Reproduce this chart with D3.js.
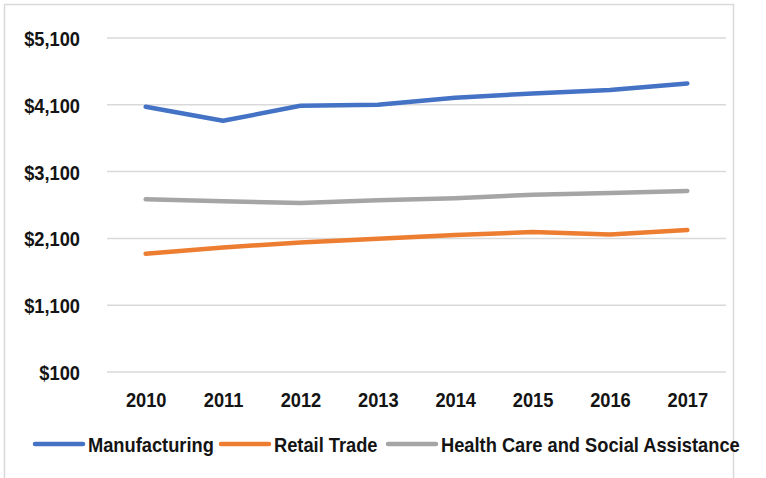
<!DOCTYPE html>
<html>
<head>
<meta charset="utf-8">
<script src="https://cdn.jsdelivr.net/npm/d3@7"></script>
<style>
  body { margin: 0; background: #fff; }
  text { font-family: "Liberation Sans Narrow", "Arial Narrow", "Liberation Sans", Arial, sans-serif; font-weight: bold; fill: #141414; }
</style>
</head>
<body>
<svg width="766" height="478"></svg>
<script>
const years = ['2010', '2011', '2012', '2013', '2014', '2015', '2016', '2017']
const manufacturing = [4070, 3860, 4085, 4100, 4205, 4270, 4320, 4420]
const retailTrade = [1870, 1965, 2040, 2095, 2150, 2195, 2160, 2225]
const healthCare = [2685, 2655, 2630, 2670, 2700, 2755, 2780, 2810]
const yTicks = [100, 1100, 2100, 3100, 4100, 5100]

const series = [
  { name: 'Manufacturing', values: manufacturing, color: '#4472C4' },
  { name: 'Retail Trade', values: retailTrade, color: '#ED7D31' },
  { name: 'Health Care and Social Assistance', values: healthCare, color: '#A5A5A5' }
]

// fonts here are wider than the original narrow face, squeeze them a bit
const squeeze = 'scale(0.87,1)'
const fontSize = '21px'

const svg = d3.select('svg')

// outer frame
svg.append('rect')
  .attr('x', 4.5).attr('y', 4.5)
  .attr('width', 729).attr('height', 490)
  .attr('fill', 'none')
  .attr('stroke', '#d9d9d9')
  .attr('stroke-width', 1.5)

const plotLeft = 107, plotRight = 726, plotTop = 38, plotBottom = 372

const x = d3.scalePoint().domain(years).range([plotLeft, plotRight]).padding(0.5)
const y = d3.scaleLinear().domain([100, 5100]).range([plotBottom, plotTop])

// gridlines
svg.append('g')
  .selectAll('line')
  .data(yTicks)
  .enter()
  .append('line')
  .attr('x1', plotLeft).attr('x2', plotRight)
  .attr('y1', d => y(d)).attr('y2', d => y(d))
  .attr('stroke', '#d9d9d9')
  .attr('stroke-width', 1.5)

// y axis labels
const yAxis = svg.append('g')
  .attr('transform', 'translate(' + (plotLeft - 27) + ',0)')
  .call(d3.axisLeft(y).tickValues(yTicks).tickSize(0).tickFormat(d => '$' + d3.format(',')(d)))
yAxis.select('.domain').remove()
yAxis.selectAll('text')
  .attr('x', 0)
  .attr('dy', '0.36em')
  .attr('transform', squeeze)
  .style('font-size', fontSize)

// x axis labels
const xAxis = svg.append('g')
  .attr('transform', 'translate(0,' + plotBottom + ')')
  .call(d3.axisBottom(x).tickSize(0))
xAxis.select('.domain').remove()
xAxis.selectAll('text')
  .attr('y', 35)
  .attr('dy', 0)
  .attr('transform', squeeze)
  .style('font-size', fontSize)

const line = d3.line()
  .x((d, i) => x(years[i]))
  .y(d => y(d))

svg.append('g')
  .selectAll('path')
  .data(series)
  .enter()
  .append('path')
  .attr('d', d => line(d.values))
  .attr('fill', 'none')
  .attr('stroke', d => d.color)
  .attr('stroke-width', 4.5)
  .attr('stroke-linecap', 'round')
  .attr('stroke-linejoin', 'round')

// legend
const legendX = [35, 221, 388]
const legend = svg.append('g')
  .selectAll('g')
  .data(series)
  .enter()
  .append('g')
  .attr('transform', (d, i) => 'translate(' + legendX[i] + ',444)')
legend.append('line')
  .attr('x1', 0).attr('x2', 48)
  .attr('stroke', d => d.color)
  .attr('stroke-width', 4.5)
  .attr('stroke-linecap', 'round')
legend.append('text')
  .attr('transform', 'translate(53,7.5) ' + squeeze)
  .style('font-size', fontSize)
  .text(d => d.name)
</script>
</body>
</html>
